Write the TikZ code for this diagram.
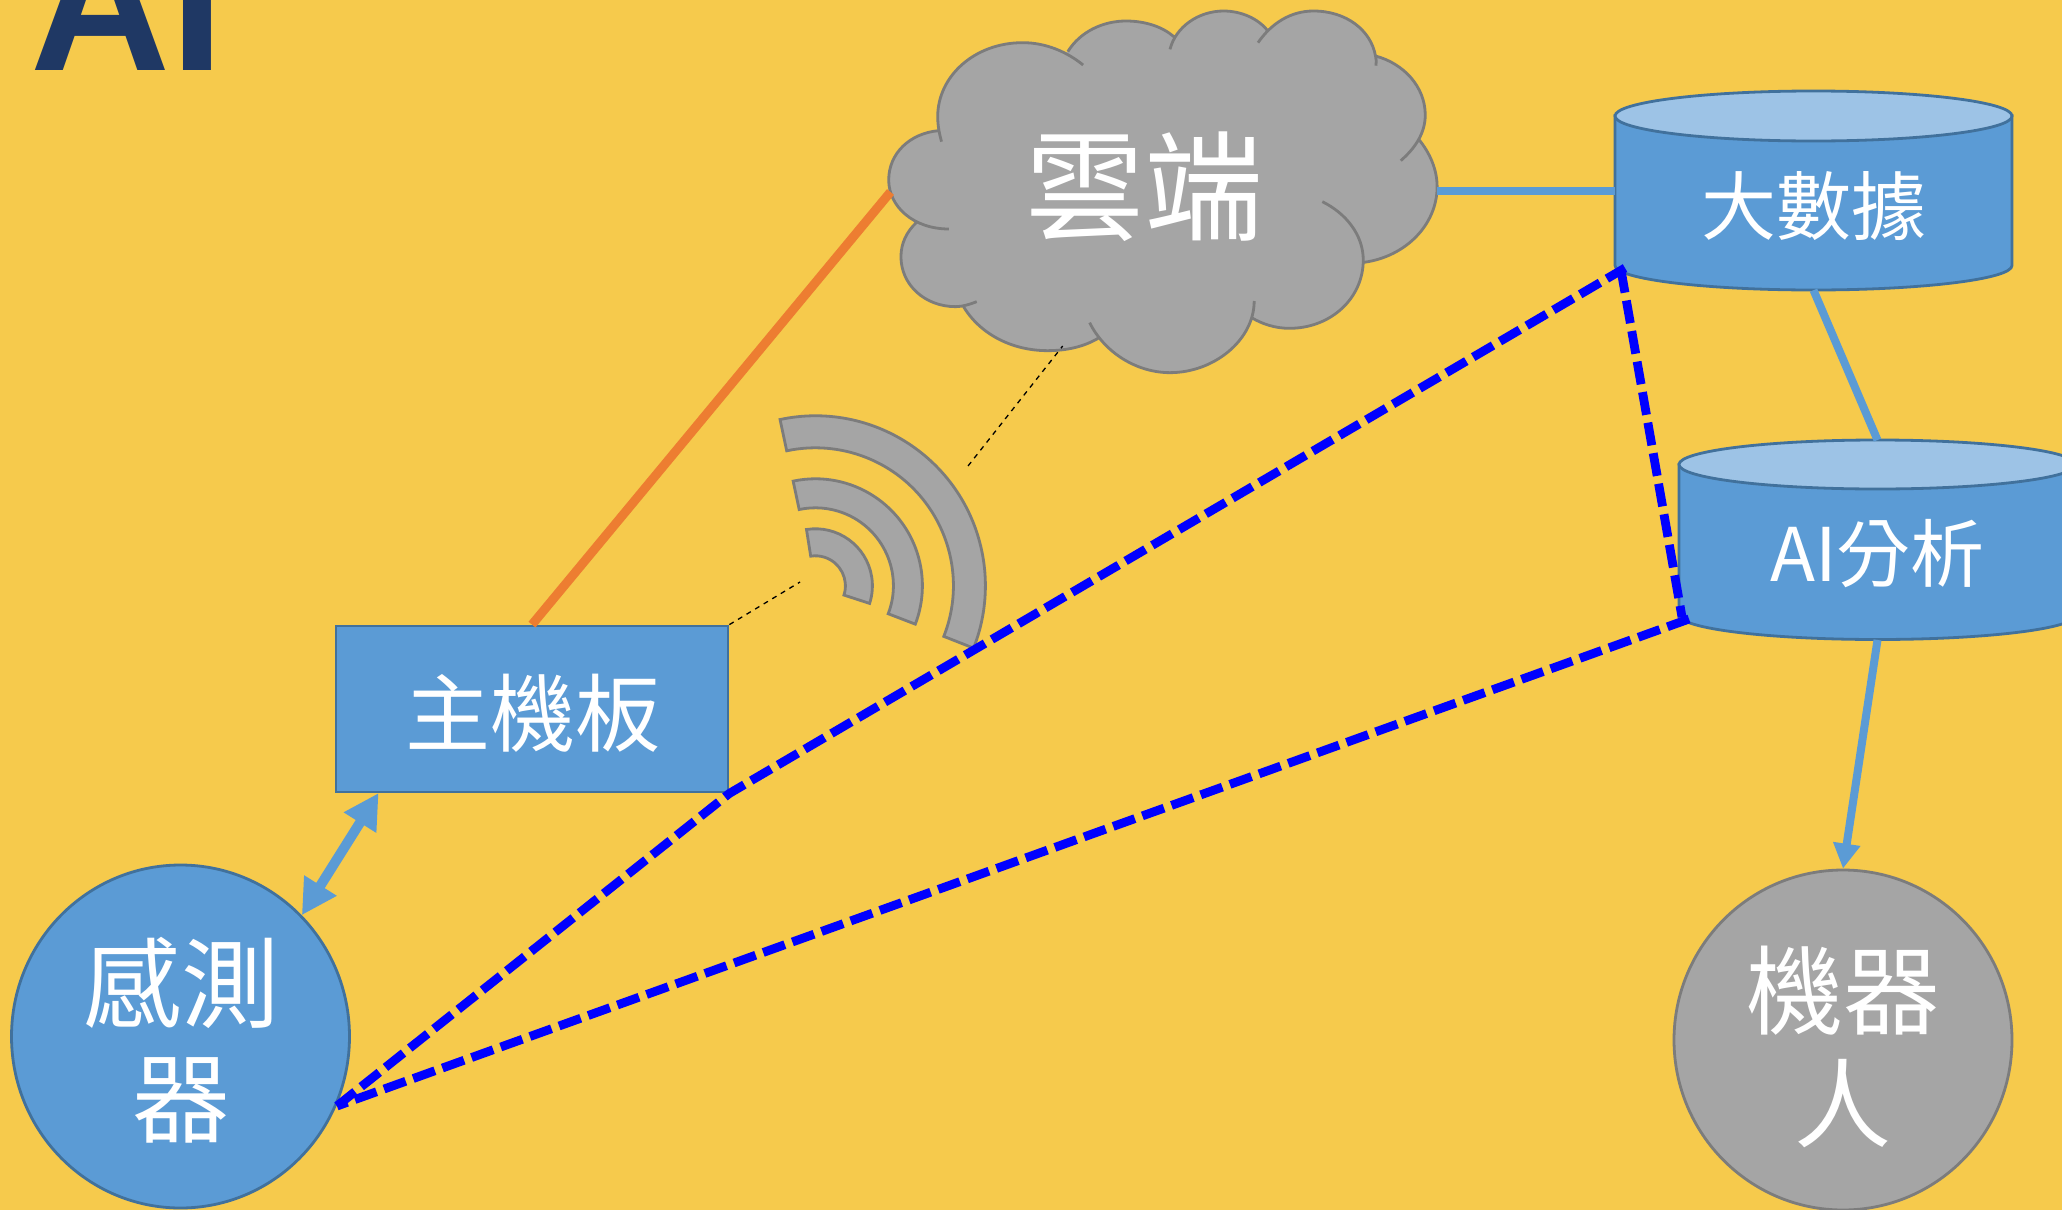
\documentclass[tikz,border=0pt]{standalone}
\usepackage{fontspec}
\usetikzlibrary{arrows.meta,shapes.geometric}
\setmainfont{Noto Sans CJK TC}
\newfontfamily\latinbold{Liberation Sans Bold}
\definecolor{bgyellow}{HTML}{F6CA4C}
\definecolor{nodeblue}{HTML}{5B9BD5}
\definecolor{edgeblue}{HTML}{41719C}
\definecolor{topblue}{HTML}{9DC3E6}
\definecolor{nodegrey}{HTML}{A5A5A5}
\definecolor{edgegrey}{HTML}{7C7C7C}
\definecolor{linkorange}{HTML}{ED7D31}
\definecolor{titlenavy}{HTML}{1F3864}
\tikzset{
  bluebox/.style={fill=nodeblue,draw=edgeblue,line width=2.8pt,inner sep=0pt},
  greyshape/.style={fill=nodegrey,draw=edgegrey,line width=2.8pt,inner sep=0pt},
  whitetext/.style={text=white,inner sep=0pt,align=center},
  bluelink/.style={draw=nodeblue,line width=8pt},
  orangelink/.style={draw=linkorange,line width=9pt},
  dashlink/.style={draw=blue,line width=8.8pt,dash pattern=on 23pt off 8pt},
  thinlink/.style={draw=black,line width=1.3pt,dash pattern=on 5pt off 5pt},
  hollow/.style={draw=none,inner sep=0pt}
}
\def\cloudlobes{
 (213,425) .. controls (207,400) and (203,375) .. (203,350) .. controls (203,228) and (300,128) .. (425,128) .. controls (485,128) and (540,155) .. (583,195)
 (543,155) .. controls (575,95) and (635,63) .. (695,63) .. controls (745,63) and (790,80) .. (820,110)
 (810,148) .. controls (825,80) and (885,33) .. (950,33) .. controls (995,33) and (1040,55) .. (1065,92)
 (1040,128) .. controls (1075,70) and (1125,33) .. (1185,33) .. controls (1270,33) and (1335,90) .. (1347,168) .. controls (1350,178) and (1349,188) .. (1348,197)
 (1347,168) .. controls (1420,190) and (1477,260) .. (1477,345) .. controls (1477,400) and (1450,445) .. (1413,482)
 (1460,418) .. controls (1490,460) and (1508,510) .. (1508,560) .. controls (1508,675) and (1425,770) .. (1317,787)
 (1208,605) .. controls (1270,640) and (1315,705) .. (1315,780) .. controls (1315,895) and (1230,985) .. (1122,985) .. controls (1085,985) and (1050,972) .. (1022,952)
 (1030,903) .. controls (1030,1020) and (925,1118) .. (810,1118) .. controls (725,1118) and (640,1060) .. (600,968)
 (622,1015) .. controls (585,1040) and (540,1052) .. (490,1052) .. controls (395,1052) and (310,1000) .. (268,915)
 (305,905) .. controls (287,913) and (268,920) .. (250,920) .. controls (170,920) and (107,855) .. (107,770) .. controls (107,730) and (122,695) .. (147,668)
 (232,687) .. controls (140,687) and (75,620) .. (75,540) .. controls (75,460) and (130,400) .. (205,392)
}
\begin{document}
\begin{tikzpicture}[x=1pt,y=-1pt]
\useasboundingbox (0,0) rectangle (2062,1210);
\clip (0,0) rectangle (2062,1210);
\fill[bgyellow] (0,0) rectangle (2062,1210);

% title
\node[anchor=base west,inner sep=0pt,text=titlenavy,font=\fontsize{194}{194}\latinbold] (title) at (30,70) {AI};

% named connector ends
\coordinate (cloudL) at (890.5,192);
\coordinate (cloudR) at (1437,190.5);
\coordinate (cloudB) at (1062.7,346);
\coordinate (wifiA) at (800,582);
\coordinate (wifiB) at (968,466);
\coordinate (bdcorner) at (1621,270);
\coordinate (bdcornerB) at (1625,268);
\coordinate (aicorner) at (1682,617);
\coordinate (aicornerB) at (1689,619);
\coordinate (senstip) at (337,1106);
\coordinate (mainport) at (378.6,793);

% cloud
\begin{scope}[shift={(860,0)},x=0.38270pt,y=-0.33333pt]
\fill[nodegrey] \cloudlobes
  (205,392) -- (543,155) -- (820,110) -- (1065,92) -- (1347,168) -- (1460,418) -- (1317,787) -- (1022,952) -- (622,1015) -- (268,915) -- (147,668) -- (75,540) -- cycle;
\draw[edgegrey,line width=2.8pt] \cloudlobes;
\end{scope}
\node[whitetext,font=\fontsize{119}{119}\selectfont] (cloud) at (1144,187) {雲端};

% wifi
\begin{scope}[shift={(815.4,585.8)}]
\draw[greyshape] (102:170pt) arc[start angle=102,end angle=-21.5,radius=170pt] -- (-21.5:138pt) arc[start angle=-21.5,end angle=102,radius=138pt] -- cycle;
\draw[greyshape] (102:107pt) arc[start angle=102,end angle=-21,radius=107pt] -- (-21:78pt) arc[start angle=-21,end angle=102,radius=78pt] -- cycle;
\draw[greyshape] (99:57pt) arc[start angle=99,end angle=-18,radius=57pt] -- (-18:30pt) arc[start angle=-18,end angle=99,radius=30pt] -- cycle;
\end{scope}

% main board
\node[bluebox,rectangle,minimum width=392pt,minimum height=166pt] (main) at (532,709) {};
\node[whitetext,font=\fontsize{85}{85}\selectfont] (mainlabel) at (533,713) {主機板};

% sensor
\node[bluebox,ellipse,minimum width=338pt,minimum height=343pt] (sensor) at (180.5,1036.5) {};
\node[whitetext,font=\fontsize{98}{115}\selectfont] (senslabel) at (181,1040) {感測\\器};

% robot
\node[greyshape,ellipse,minimum width=338pt,minimum height=340pt] (robot) at (1843,1040) {};
\node[whitetext,font=\fontsize{97}{113}\selectfont] (robotlabel) at (1843,1047) {機器\\人};

% big data cylinder
\draw[bluebox] (1615,115.5) -- (1615,265.5) .. controls (1615,279) and (1704,290) .. (1813.5,290) .. controls (1923,290) and (2012,279) .. (2012,265.5) -- (2012,115.5) -- cycle;
\draw[fill=topblue,draw=edgeblue,line width=2.8pt] (1813.5,116) ellipse[x radius=198.5pt,y radius=25pt];
\node[hollow,rectangle,minimum width=397pt,minimum height=199pt] (bd) at (1813.5,190.5) {};
\node[whitetext,font=\fontsize{75}{75}\selectfont] (bdlabel) at (1814,206) {大數據};

% AI cylinder
\draw[bluebox] (1679,464.5) -- (1679,615) .. controls (1679,628.5) and (1768,639.5) .. (1877.5,639.5) .. controls (1987,639.5) and (2076,628.5) .. (2076,615) -- (2076,464.5) -- cycle;
\draw[fill=topblue,draw=edgeblue,line width=2.8pt] (1877.5,464.5) ellipse[x radius=198.5pt,y radius=24.5pt];
\node[hollow,rectangle,minimum width=397pt,minimum height=199.5pt] (ai) at (1877.5,540) {};
\node[whitetext,font=\fontsize{74}{74}\selectfont] (ailabel) at (1877.5,554) {AI分析};

% connectors
\draw[orangelink] (cloudL) -- (main.north);
\draw[bluelink] (cloudR) -- (bd.west);
\draw[bluelink] (bd.south) -- (ai.north);
\draw[bluelink,-{Triangle[length=25pt,width=26pt]}] (ai.south) -- (robot.north);
\draw[bluelink,line width=10pt,{Triangle[length=35pt,width=36pt]}-{Triangle[length=35pt,width=36pt]}] (sensor.45) -- (mainport);
\draw[thinlink] (main.north east) -- (wifiA);
\draw[thinlink] (wifiB) -- (cloudB);
\draw[dashlink] (senstip) -- (main.south east) -- (bdcornerB);
\draw[dashlink] (bdcorner) -- (aicorner);
\draw[dashlink] (aicornerB) -- (senstip);
\end{tikzpicture}
\end{document}
